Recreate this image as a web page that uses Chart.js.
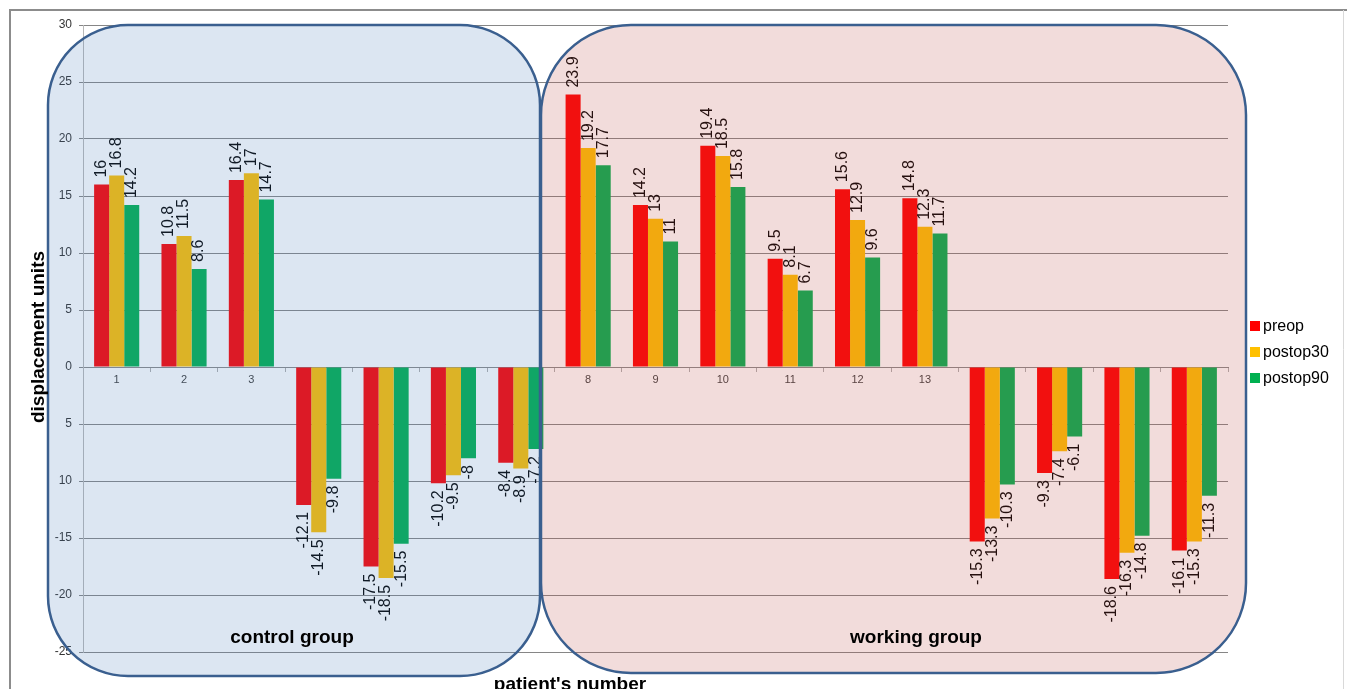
<!DOCTYPE html>
<html lang="en">
<head>
    <meta charset="UTF-8">
    <title>Displacement by patient</title>
    <script src="https://cdn.jsdelivr.net/npm/chart.js"></script>
    <style>
        body {
            margin: 0;
            padding: 0;
            background-color: #fff;
        }

        canvas {
            display: block;
        }
    </style>
</head>
<body>
    <canvas id="displacementChart" width="1347" height="689"></canvas>

    <script>
        // Patient numbers and measurements per visit
        const patients = ['1', '2', '3', '4', '5', '6', '7', '8', '9', '10', '11', '12', '13', '14', '15', '16', '17'];
        const preop = [16, 10.8, 16.4, -12.1, -17.5, -10.2, -8.4, 23.9, 14.2, 19.4, 9.5, 15.6, 14.8, -15.3, -9.3, -18.6, -16.1];
        const postop30 = [16.8, 11.5, 17, -14.5, -18.5, -9.5, -8.9, 19.2, 13, 18.5, 8.1, 12.9, 12.3, -13.3, -7.4, -16.3, -15.3];
        const postop90 = [14.2, 8.6, 14.7, -9.8, -15.5, -8, -7.2, 17.7, 11, 15.8, 6.7, 9.6, 11.7, -10.3, -6.1, -14.8, -11.3];

        const seriesNames = ['preop', 'postop30', 'postop90'];
        const seriesColors = ['#ff0000', '#ffc000', '#00b050'];

        // y axis tick values and the text printed next to them
        const yTicks = [30, 25, 20, 15, 10, 5, 0, -5, -10, -15, -20, -25];
        const yTickLabels = ['30', '25', '20', '15', '10', '5', '0', '5', '10', '-15', '-20', '-25'];

        const groupNames = ['control group', 'working group'];

        const FONT = "'Liberation Sans', Arial, sans-serif";
        Chart.defaults.font.family = FONT;

        // rotated value labels at the end of each bar
        const valueLabels = {
            id: 'valueLabels',
            afterDatasetsDraw(chart) {
                const ctx = chart.ctx;
                ctx.save();
                ctx.font = '16px ' + FONT;
                ctx.fillStyle = '#000';
                ctx.textBaseline = 'middle';
                chart.data.datasets.forEach((ds, di) => {
                    const meta = chart.getDatasetMeta(di);
                    meta.data.forEach((bar, i) => {
                        const v = ds.data[i];
                        ctx.save();
                        if (v >= 0) {
                            ctx.translate(bar.x, bar.y - 7);
                            ctx.textAlign = 'left';
                        } else {
                            ctx.translate(bar.x, bar.y + 7);
                            ctx.textAlign = 'right';
                        }
                        ctx.rotate(-Math.PI / 2);
                        ctx.fillText(String(v), 0, 0);
                        ctx.restore();
                    });
                });
                ctx.restore();
            }
        };

        function roundBox(ctx, x, y, w, h, r) {
            ctx.beginPath();
            ctx.moveTo(x + r, y);
            ctx.lineTo(x + w - r, y);
            ctx.arcTo(x + w, y, x + w, y + r, r);
            ctx.lineTo(x + w, y + h - r);
            ctx.arcTo(x + w, y + h, x + w - r, y + h, r);
            ctx.lineTo(x + r, y + h);
            ctx.arcTo(x, y + h, x, y + h - r, r);
            ctx.lineTo(x, y + r);
            ctx.arcTo(x, y, x + r, y, r);
            ctx.closePath();
        }

        // frame, group boxes, titles and legend
        const decorations = {
            id: 'decorations',
            afterDraw(chart) {
                const ctx = chart.ctx;
                ctx.save();

                // outer frame
                ctx.strokeStyle = '#8c8c8c';
                ctx.lineWidth = 2;
                ctx.beginPath();
                ctx.moveTo(10, 689);
                ctx.lineTo(10, 10);
                ctx.lineTo(1347, 10);
                ctx.stroke();
                ctx.strokeStyle = '#d9d9d9';
                ctx.lineWidth = 1;
                ctx.beginPath();
                ctx.moveTo(1343.5, 10);
                ctx.lineTo(1343.5, 689);
                ctx.stroke();

                // translucent group boxes
                ctx.lineWidth = 2.5;
                ctx.strokeStyle = '#3a5f8f';
                roundBox(ctx, 48, 25, 492, 651, 80);
                ctx.fillStyle = 'rgba(79, 129, 189, 0.2)';
                ctx.fill();
                ctx.stroke();
                roundBox(ctx, 541, 25, 705, 648, 90);
                ctx.fillStyle = 'rgba(192, 80, 77, 0.2)';
                ctx.fill();
                ctx.stroke();

                ctx.fillStyle = '#000';
                ctx.font = 'bold 19px ' + FONT;
                ctx.textAlign = 'center';
                ctx.textBaseline = 'alphabetic';
                ctx.fillText(groupNames[0], 292, 643);
                ctx.fillText(groupNames[1], 916, 643);

                // axis titles
                ctx.fillText("patient's number", 570, 690);
                ctx.save();
                ctx.translate(44, 337);
                ctx.rotate(-Math.PI / 2);
                ctx.fillText('displacement units', 0, 0);
                ctx.restore();

                // legend
                ctx.font = '16px ' + FONT;
                ctx.textAlign = 'left';
                ctx.textBaseline = 'middle';
                const rows = [326, 352, 378];
                chart.data.datasets.forEach((ds, i) => {
                    ctx.fillStyle = ds.backgroundColor;
                    ctx.fillRect(1250, rows[i] - 5, 10, 10);
                    ctx.fillStyle = '#000';
                    ctx.fillText(ds.label, 1263, rows[i] + 1);
                });

                ctx.restore();
            }
        };

        const ctx = document.getElementById('displacementChart').getContext('2d');
        const chart = new Chart(ctx, {
            type: 'bar',
            data: {
                labels: patients,
                datasets: [
                    { label: seriesNames[0], data: preop, backgroundColor: seriesColors[0] },
                    { label: seriesNames[1], data: postop30, backgroundColor: seriesColors[1] },
                    { label: seriesNames[2], data: postop90, backgroundColor: seriesColors[2] }
                ]
            },
            options: {
                responsive: false,
                animation: false,
                categoryPercentage: 0.67,
                barPercentage: 1,
                layout: {
                    padding: { left: 0, top: 25, right: 119, bottom: 37 }
                },
                plugins: {
                    legend: { display: false },
                    tooltip: { enabled: false }
                },
                scales: {
                    x: {
                        position: { y: 0 },
                        z: 1,
                        grid: {
                            drawOnChartArea: false,
                            tickLength: 4,
                            color: '#b0b0b0'
                        },
                        border: { color: '#8a8a8a' },
                        ticks: {
                            padding: 2,
                            color: '#404040',
                            font: { size: 11 },
                            maxRotation: 0
                        }
                    },
                    y: {
                        min: -25,
                        max: 30,
                        afterFit(scale) {
                            scale.width = 83;
                        },
                        afterBuildTicks(scale) {
                            scale.ticks = yTicks.map(v => ({ value: v }));
                        },
                        grid: {
                            color: '#868686',
                            tickLength: 4
                        },
                        border: { color: '#b8b8b8' },
                        ticks: {
                            padding: 7,
                            color: '#333',
                            font: { size: 12 },
                            callback: (value) => yTickLabels[yTicks.indexOf(value)]
                        }
                    }
                }
            },
            plugins: [valueLabels, decorations]
        });
    </script>
</body>
</html>
